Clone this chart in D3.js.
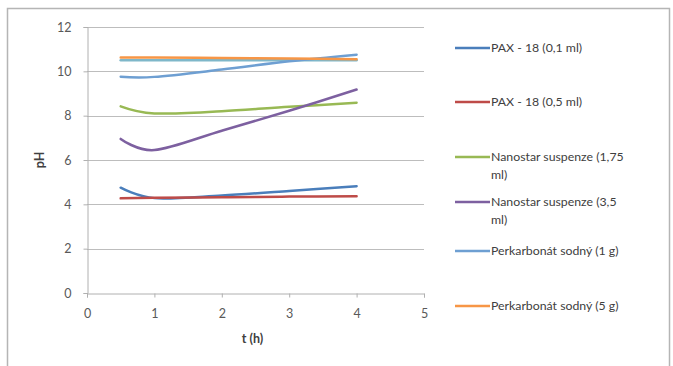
<!DOCTYPE html>
<html>
<head>
<meta charset="utf-8">
<script src="https://cdn.jsdelivr.net/npm/d3@7"></script>
<style>
  html, body { margin: 0; padding: 0; background: #fff; }
  svg { display: block; }
</style>
</head>
<body>
<svg id="chart" width="673" height="366"></svg>
<script>
// Measurement times (h)
const times = [0.5, 1, 2, 3, 4];

// pH per sample
const pax01 = [4.75, 4.28, 4.4, 4.6, 4.82];
const pax05 = [4.27, 4.3, 4.32, 4.35, 4.37];
const nano175 = [8.42, 8.1, 8.2, 8.4, 8.58];
const nano35 = [6.95, 6.45, 7.32, 8.22, 9.18];
const perk1 = [9.76, 9.75, 10.08, 10.45, 10.75];
const perk5 = [10.62, 10.62, 10.6, 10.58, 10.55];
const perkRef = [10.5, 10.5, 10.5, 10.5, 10.5];

const seriesNames = [
  "PAX - 18 (0,1 ml)",
  "PAX - 18 (0,5 ml)",
  "Nanostar suspenze (1,75 ml)",
  "Nanostar suspenze (3,5 ml)",
  "Perkarbonát sodný (1 g)",
  "Perkarbonát sodný (5 g)"
];

const xTicks = [0, 1, 2, 3, 4, 5];
const yTicks = [0, 2, 4, 6, 8, 10, 12];

const series = [
  { name: null, values: perkRef, color: "#7fb7c9" },
  { name: seriesNames[0], values: pax01, color: "#4a7ebb" },
  { name: seriesNames[1], values: pax05, color: "#be4b48" },
  { name: seriesNames[2], values: nano175, color: "#98b954" },
  { name: seriesNames[3], values: nano35, color: "#7d60a0" },
  { name: seriesNames[4], values: perk1, color: "#6e9fd2" },
  { name: seriesNames[5], values: perk5, color: "#f79646" }
];

const svg = d3.select("#chart");
const font = "Lato, 'Open Sans', sans-serif";

// Outer chart frame
svg.append("rect")
  .attr("x", 7.5).attr("y", 8.5)
  .attr("width", 662).attr("height", 360)
  .attr("fill", "#fff").attr("stroke", "#b5b5b5").attr("stroke-width", 1.5);

const plot = { left: 87, right: 424, top: 27, bottom: 293 };
const x = d3.scaleLinear().domain([0, 5]).range([plot.left, plot.right]);
const y = d3.scaleLinear().domain([0, 12]).range([plot.bottom, plot.top]);

// Horizontal gridlines
svg.append("g")
  .selectAll("line")
  .data(yTicks.filter(d => d > 0))
  .join("line")
  .attr("x1", plot.left).attr("x2", plot.right)
  .attr("y1", d => Math.round(y(d)) + 0.5).attr("y2", d => Math.round(y(d)) + 0.5)
  .attr("stroke", "#bdbdbd").attr("stroke-width", 1);

// Axes
const xAxis = svg.append("g")
  .attr("transform", `translate(0,${Math.round(plot.bottom) + 0.5})`)
  .call(d3.axisBottom(x).tickValues(xTicks).tickSize(4).tickPadding(12).tickFormat(d3.format("d")));
const yAxis = svg.append("g")
  .attr("transform", `translate(${plot.left + 0.5},0)`)
  .call(d3.axisLeft(y).tickValues(yTicks).tickSize(4).tickPadding(12).tickFormat(d3.format("d")));

[xAxis, yAxis].forEach(a => {
  a.select(".domain").attr("stroke", "#b0b0b0");
  a.selectAll(".tick line").attr("stroke", "#b0b0b0");
  a.selectAll("text").attr("fill", "#595959").attr("font-size", 12.5).attr("font-family", font);
});

// Axis titles
svg.append("text")
  .attr("x", (plot.left + plot.right) / 2 - 3).attr("y", 343)
  .attr("text-anchor", "middle")
  .attr("font-family", font).attr("font-size", 12.5).attr("font-weight", "bold")
  .attr("fill", "#404040")
  .text("t (h)");
svg.append("text")
  .attr("transform", `translate(44,${(plot.top + plot.bottom) / 2}) rotate(-90)`)
  .attr("text-anchor", "middle")
  .attr("font-family", font).attr("font-size", 12.5).attr("font-weight", "bold")
  .attr("fill", "#404040")
  .text("pH");

// Smoothed data lines
const line = d3.line()
  .x((d, i) => x(times[i]))
  .y(d => y(d))
  .curve(d3.curveCardinal.tension(0));

svg.append("g")
  .selectAll("path")
  .data(series)
  .join("path")
  .attr("d", s => line(s.values))
  .attr("fill", "none")
  .attr("stroke", s => s.color)
  .attr("stroke-width", 2.5)
  .attr("stroke-linejoin", "round")
  .attr("stroke-linecap", "round");

// Legend
const legendRows = [
  { lines: ["PAX - 18 (0,1 ml)"], y: 48 },
  { lines: ["PAX - 18 (0,5 ml)"], y: 102 },
  { lines: ["Nanostar suspenze (1,75", "ml)"], y: 157 },
  { lines: ["Nanostar suspenze (3,5", "ml)"], y: 202 },
  { lines: ["Perkarbonát sodný (1 g)"], y: 251 },
  { lines: ["Perkarbonát sodný (5 g)"], y: 306 }
];
const legendSeries = series.filter(s => s.name);
const legend = svg.append("g");
legendRows.forEach((row, i) => {
  legend.append("line")
    .attr("x1", 455).attr("x2", 490)
    .attr("y1", row.y).attr("y2", row.y)
    .attr("stroke", legendSeries[i].color).attr("stroke-width", 2.5);
  const t = legend.append("text")
    .attr("x", 491).attr("y", row.y + 4)
    .attr("font-family", font).attr("font-size", 12.3)
    .attr("fill", "#404040");
  row.lines.forEach((l, j) => {
    t.append("tspan").attr("x", 491).attr("dy", j === 0 ? 0 : 18).text(l);
  });
});
</script>
</body>
</html>
